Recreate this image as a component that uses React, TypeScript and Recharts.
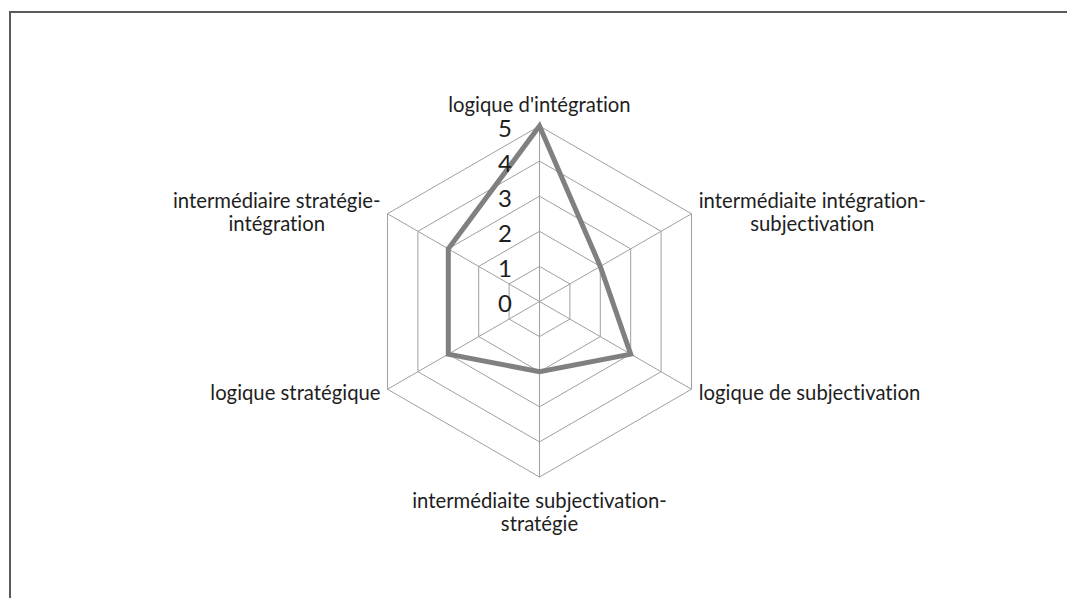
import React from 'react';
import { RadarChart, Radar, PolarGrid, PolarAngleAxis, PolarRadiusAxis } from 'recharts';

const categories = [
  "logique d'intégration",
  "intermédiaite intégration-subjectivation",
  "logique de subjectivation",
  "intermédiaite subjectivation-stratégie",
  "logique stratégique",
  "intermédiaire stratégie-intégration",
];
const values = [5, 2, 3, 2, 3, 3];
const radiusTicks = [0, 1, 2, 3, 4, 5];

const data = categories.map((c, i) => ({ category: c, value: values[i] }));

const W = 1067;
const H = 598;
const CX = 539.5;
const CY = 301.5;
const R = 175.5;
const FONT = 'Lato, sans-serif';
const LABEL_SIZE = 20.3;
const LINE_H = 23;
const TEXT_COLOR = '#1e1e1e';

let ctx: CanvasRenderingContext2D | null = null;
function measure(text: string, size: number): number {
  if (!ctx) {
    const c = document.createElement('canvas');
    ctx = c.getContext('2d');
  }
  if (!ctx) return text.length * size * 0.5;
  ctx.font = `${size}px ${FONT}`;
  return ctx.measureText(text).width;
}

function wrap(label: string): string[] {
  const i = label.indexOf('-');
  if (i < 0) return [label];
  return [label.slice(0, i + 1), label.slice(i + 1)];
}

const textStyle: React.CSSProperties = { fontVariantLigatures: 'none' };

const AngleTick = (props: any) => {
  const { x, y, payload } = props;
  const dx = x - CX;
  const dy = y - CY;
  const len = Math.sqrt(dx * dx + dy * dy) || 1;
  const vx = CX + (dx / len) * R;
  const vy = CY + (dy / len) * R;
  const lines = wrap(String(payload.value));
  const n = lines.length;
  let bx = vx;
  let firstY = vy;
  if (Math.abs(dx) < 1) {
    if (dy < 0) {
      firstY = vy - 22 - (n - 1) * LINE_H;
    } else {
      firstY = vy + 23;
    }
  } else {
    const w = Math.max(...lines.map((l) => measure(l, LABEL_SIZE)));
    const sign = dx > 0 ? 1 : -1;
    bx = vx + sign * (7 + w / 2);
    const centerY = vy + (dy > 0 ? 3 : -2.5);
    firstY = centerY - ((n - 1) * LINE_H) / 2;
  }
  return (
    <g>
      {lines.map((l, i) => (
        <text
          key={i}
          x={bx}
          y={firstY + i * LINE_H}
          textAnchor="middle"
          dominantBaseline="central"
          fontFamily={FONT}
          fontSize={LABEL_SIZE}
          fill={TEXT_COLOR}
          style={textStyle}
        >
          {l}
        </text>
      ))}
    </g>
  );
};

const RadiusTick = (props: any) => {
  const { x, y, payload } = props;
  return (
    <text
      x={x - 27.5}
      y={y + 1}
      textAnchor="end"
      dominantBaseline="central"
      fontFamily={FONT}
      fontSize={24}
      fill={TEXT_COLOR}
    >
      {payload.value}
    </text>
  );
};

export default function App() {
  return (
    <div
      style={{
        position: 'fixed',
        left: 0,
        top: 0,
        width: W,
        height: H,
        overflow: 'hidden',
        background: '#ffffff',
      }}
    >
      <div
        style={{
          position: 'absolute',
          left: 9,
          top: 11,
          width: 1200,
          height: 800,
          borderLeft: '2px solid #5a5a5a',
          borderTop: '2px solid #5a5a5a',
        }}
      />
      <div style={{ position: 'absolute', left: 0, top: 0 }}>
        <RadarChart
          width={W}
          height={H}
          data={data}
          cx={CX}
          cy={CY}
          outerRadius={R}
          margin={{ top: 0, right: 0, bottom: 0, left: 0 }}
        >
          <PolarGrid gridType="polygon" stroke="#9f9f9f" strokeWidth={1} />
          <PolarAngleAxis dataKey="category" tick={<AngleTick />} tickLine={false} axisLine={false} />
          <PolarRadiusAxis
            angle={90}
            domain={[0, 5]}
            ticks={radiusTicks as any}
            tickCount={6}
            axisLine={false}
            tickLine={false}
            tick={<RadiusTick />}
          />
          <Radar
            dataKey="value"
            stroke="#808080"
            strokeWidth={5}
            fill="none"
            fillOpacity={0}
            dot={false}
            isAnimationActive={false}
          />
        </RadarChart>
      </div>
    </div>
  );
}
